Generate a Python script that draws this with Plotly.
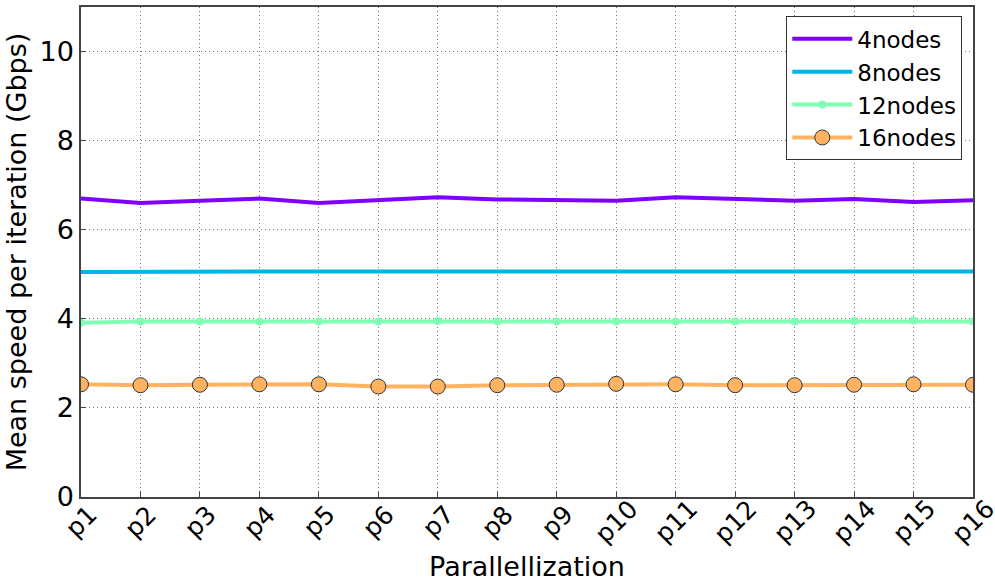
import plotly.graph_objects as go

categories = [f"p{i}" for i in range(1, 17)]
nodes4 = [6.70, 6.60, 6.65, 6.70, 6.60, 6.66, 6.73, 6.68, 6.67, 6.65, 6.73, 6.69, 6.65, 6.69, 6.62, 6.66]
nodes8 = [5.05, 5.06, 5.06, 5.06, 5.06, 5.06, 5.07, 5.06, 5.06, 5.05, 5.06, 5.06, 5.05, 5.06, 5.06, 5.06]
nodes12 = [3.91, 3.94, 3.94, 3.94, 3.94, 3.94, 3.95, 3.94, 3.94, 3.94, 3.94, 3.94, 3.94, 3.95, 3.96, 3.94]
nodes16 = [2.53, 2.51, 2.52, 2.53, 2.53, 2.48, 2.48, 2.51, 2.52, 2.54, 2.53, 2.51, 2.51, 2.52, 2.53, 2.52]
y_ticks = [0, 2, 4, 6, 8, 10]

FONT = "DejaVu Sans"

fig = go.Figure()
fig.add_trace(go.Scatter(x=categories, y=nodes4, name="4nodes", mode="lines",
                         line=dict(color="#7f00ff", width=4)))
fig.add_trace(go.Scatter(x=categories, y=nodes8, name="8nodes", mode="lines",
                         line=dict(color="#00b4ec", width=4)))
fig.add_trace(go.Scatter(x=categories, y=nodes12, name="12nodes", mode="lines+markers",
                         line=dict(color="#80ffb4", width=4),
                         marker=dict(color="#80ffb4", size=8)))
fig.add_trace(go.Scatter(x=categories, y=nodes16, name="16nodes", mode="lines+markers",
                         line=dict(color="#ffb360", width=4),
                         marker=dict(color="#ffb360", size=15, line=dict(color="#333333", width=1))))

axis_common = dict(showline=True, linecolor="#444444", linewidth=1.5, mirror=True,
                   showgrid=True, gridcolor="#777777", griddash="1px,3px", gridwidth=1,
                   ticks="inside", tickcolor="#444444", ticklen=5, zeroline=False,
                   automargin=False)

# x tick labels as rotated annotations centered on each category
for c in categories:
    fig.add_annotation(x=c, y=0, xref="x", yref="paper", text=c, showarrow=False,
                       textangle=-45, xanchor="center", yanchor="middle", yshift=-24,
                       font=dict(family=FONT, size=25, color="black"))

fig.update_layout(
    width=995, height=582,
    margin=dict(l=81, r=22, t=7, b=85),
    paper_bgcolor="white", plot_bgcolor="white",
    font=dict(family=FONT, color="black"),
    showlegend=True,
    legend=dict(x=0.988, y=0.981, xanchor="right", yanchor="top",
                bgcolor="white", bordercolor="#333333", borderwidth=1,
                font=dict(family=FONT, size=23), itemwidth=60, tracegroupgap=0),
    xaxis=dict(**axis_common, showticklabels=False, range=[0, 15],
               title=dict(text="Parallellization", font=dict(family=FONT, size=27), standoff=60)),
    yaxis=dict(**axis_common, range=[0, 11], tickvals=y_ticks,
               tickfont=dict(family=FONT, size=27),
               title=dict(text="Mean speed per iteration (Gbps)", font=dict(family=FONT, size=27), standoff=5)),
)

fig.write_html("out.html", config={"displayModeBar": False},
               post_script="document.body.style.margin='0';")
